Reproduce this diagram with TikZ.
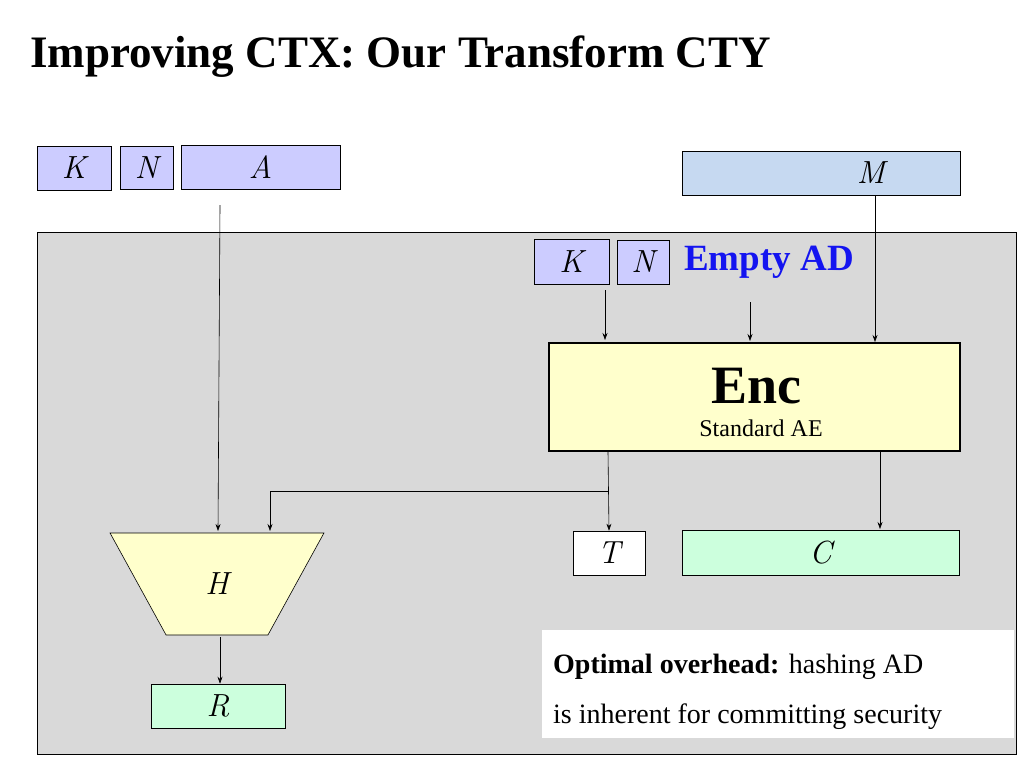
\documentclass[tikz,border=0pt]{standalone}
\usepackage{fontspec}
\setmainfont{Liberation Serif}
\newfontfamily\lmfont{Latin Modern Roman}
\usetikzlibrary{arrows.meta,positioning,shapes.geometric}
\definecolor{inbox}{RGB}{204,204,255}
\definecolor{msgbox}{RGB}{198,217,241}
\definecolor{encbox}{RGB}{255,255,204}
\definecolor{outbox}{RGB}{204,255,221}
\definecolor{panel}{RGB}{217,217,217}
\definecolor{adblue}{RGB}{20,20,240}
\tikzset{
  wire/.style={-{Stealth[length=7pt,width=5pt]}, line width=0.6pt},
  var/.style={draw, line width=0.6pt, font=\fontsize{32}{32}\selectfont\lmfont\itshape, inner sep=0pt},
  invar/.style={var, fill=inbox},
  outvar/.style={var, fill=outbox}
}
\begin{document}
\begin{tikzpicture}[x=1pt, y=-1pt]
  \useasboundingbox (0,0) rectangle (1024,768);
  \fill[white] (0,0) rectangle (1024,768);
  % title
  \node[anchor=base west, font=\fontsize{45}{45}\selectfont\bfseries, inner sep=0pt] (title) at (30,67) {Improving CTX: Our Transform CTY};
  % panel
  \draw[fill=panel, line width=0.6pt] (37,232) rectangle (1016,754);
  % inputs
  \node[invar, minimum width=74pt, minimum height=44pt] (k) at (74,168) {K};
  \node[invar, minimum width=53pt, minimum height=43pt] (n) at (146.5,167.5) {N};
  \node[invar, minimum width=159pt, minimum height=44pt] (a) at (260.5,167) {A};
  \node[var, fill=msgbox, minimum width=278pt, minimum height=44pt] (m) at (821,173) {\hspace{100pt}M};
  \node[invar, minimum width=75pt, minimum height=45pt] (k2) at (571.5,261.5) {K};
  \node[invar, minimum width=52pt, minimum height=44pt] (n2) at (643,262) {N};
  \node[anchor=west, text=adblue, font=\fontsize{37}{37}\selectfont\bfseries, inner sep=0pt] (ad) at (684,262) {Empty AD};
  % encryption
  \node[draw, line width=2pt, fill=encbox, minimum width=411pt, minimum height=108pt] (enc) at (754.5,397) {};
  \node[font=\fontsize{54}{54}\selectfont\bfseries, inner sep=0pt] (enclbl) at (756,386) {Enc};
  \node[font=\fontsize{24}{24}\selectfont, inner sep=0pt] (aelbl) at (761,428) {Standard AE};
  \coordinate (adin) at (750,302);
  \draw[wire] (605,290) -- (605,340);
  \draw[wire] (adin) -- (750,341);
  \draw[wire] (m.south -| 875,0) -- (875,342);
  % outputs
  \node[var, fill=white, minimum width=72pt, minimum height=44pt] (t) at (609,553) {T};
  \node[outvar, minimum width=277pt, minimum height=45pt] (c) at (820.5,552.5) {C};
  \draw[wire] (608,452) -- (t.north);
  \draw[wire] (880,452) -- (880,529);
  % hash
  \node[draw, line width=0.6pt, fill=encbox, trapezium, shape border rotate=180, trapezium stretches=true,
    minimum width=214pt, minimum height=102pt, font=\fontsize{32}{32}\selectfont\lmfont\itshape] (h) at (217,584) {H};
  \node[outvar, minimum width=134pt, minimum height=44pt] (r) at (218,706) {R};
  \draw[wire] (220,205) -- (218,531);
  \draw[wire] (608,491) -- (270,491) -- (270,531);
  \draw[wire] (220,637) -- (r.north -| 220,0);
  % note
  \fill[white] (542,630) rectangle (1014,738);
  \node[anchor=base west, font=\fontsize{28}{28}\selectfont, inner sep=0pt] (note1) at (553,673) {\textbf{Optimal overhead:} hashing AD};
  \node[anchor=base west, font=\fontsize{28}{28}\selectfont, inner sep=0pt] (note2) at (553,723) {is inherent for committing security};
\end{tikzpicture}
\end{document}
